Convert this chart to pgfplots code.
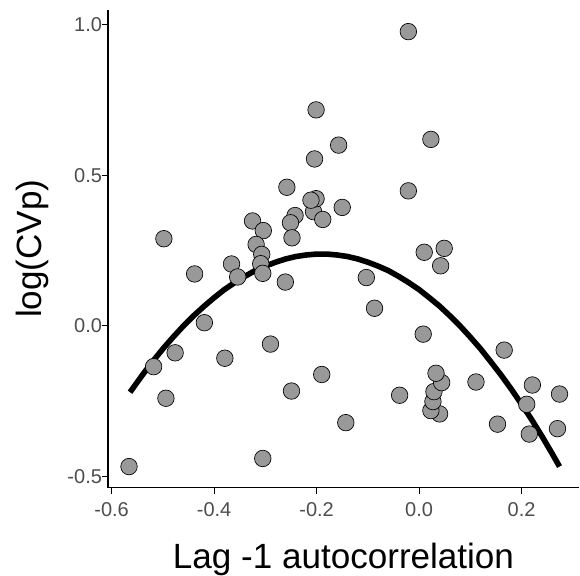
\documentclass[border=0pt]{standalone}
\usepackage{pgfplots}
\pgfplotsset{compat=1.18}
\usepackage{fontspec}
\setmainfont{Liberation Sans}
\definecolor{ptfill}{HTML}{999999}
\definecolor{ticktext}{HTML}{4D4D4D}
\begin{document}
\begin{tikzpicture}
\begin{axis}[
  at={(0,0)}, anchor=south west,
  scale only axis, width=353.25pt, height=358.5pt,
  xmin=-0.607, xmax=0.312, ymin=-0.538, ymax=1.05,
  axis x line*=bottom, axis y line*=left,
  axis line style={line width=1pt, -},
  xtick={-0.6,-0.4,-0.2,0,0.2}, xticklabels={-0.6,-0.4,-0.2,0.0,0.2},
  ytick={-0.5,0,0.5,1}, yticklabels={-0.5,0.0,0.5,1.0},
  tick align=outside, major tick length=4.5pt,
  tick style={line width=0.8pt, black},
  ticklabel style={font=\fontsize{15}{17}\selectfont, text=ticktext},
  xticklabel style={yshift=-3pt},
  yticklabel style={xshift=3.5pt},
  xlabel={Lag -1 autocorrelation}, ylabel={log(CVp)},
  label style={font=\fontsize{26.3}{31}\selectfont},
  xlabel style={at={([yshift=-61pt]axis description cs:0.5,0)}, anchor=base},
  ylabel style={at={([xshift=-49.5pt]axis description cs:0,0.5)}, anchor=base},
  clip=false,
]
\addplot[only marks, mark=*, mark size=6.2pt,
  mark options={fill=ptfill, draw=black, line width=0.5pt}] table {
x y
-0.021 0.977
-0.201 0.717
0.023 0.619
-0.157 0.600
-0.204 0.554
-0.258 0.460
-0.021 0.448
-0.206 0.379
-0.201 0.422
-0.211 0.417
-0.150 0.393
-0.188 0.353
-0.242 0.366
-0.325 0.348
-0.251 0.342
-0.304 0.316
-0.248 0.292
-0.498 0.289
-0.318 0.270
0.049 0.257
0.010 0.244
-0.307 0.237
-0.366 0.205
-0.309 0.206
0.042 0.199
-0.305 0.174
-0.438 0.172
-0.354 0.162
-0.103 0.160
-0.261 0.145
-0.087 0.058
-0.419 0.010
0.008 -0.028
-0.290 -0.061
0.166 -0.081
-0.476 -0.090
-0.379 -0.108
-0.518 -0.136
-0.190 -0.162
0.111 -0.187
0.221 -0.197
-0.249 -0.217
0.274 -0.227
-0.038 -0.231
-0.494 -0.241
0.210 -0.261
0.040 -0.293
0.023 -0.282
0.027 -0.252
0.029 -0.219
0.044 -0.189
0.033 -0.158
-0.143 -0.322
0.153 -0.327
0.270 -0.342
0.215 -0.360
-0.305 -0.441
-0.566 -0.468
};
\addplot[black, line width=4.2pt, line cap=butt, line join=round] coordinates {
(-0.564,-0.221) (-0.54,-0.164) (-0.52,-0.119) (-0.50,-0.077) (-0.48,-0.038)
(-0.46,-0.001) (-0.44,0.033) (-0.42,0.064) (-0.40,0.093) (-0.38,0.120)
(-0.36,0.143) (-0.34,0.164) (-0.32,0.183) (-0.30,0.198) (-0.28,0.211)
(-0.26,0.222) (-0.24,0.230) (-0.22,0.235) (-0.20,0.238) (-0.18,0.238)
(-0.16,0.235) (-0.14,0.230) (-0.12,0.222) (-0.10,0.211) (-0.08,0.198)
(-0.06,0.183) (-0.04,0.164) (-0.02,0.143) (0.00,0.120) (0.02,0.093)
(0.04,0.065) (0.06,0.033) (0.08,-0.001) (0.10,-0.038) (0.12,-0.077)
(0.14,-0.120) (0.16,-0.164) (0.18,-0.211) (0.20,-0.261) (0.22,-0.313)
(0.24,-0.368) (0.26,-0.426) (0.274,-0.468)
};
\end{axis}
\pgfresetboundingbox
\path[use as bounding box] (-81pt,-65.55pt) rectangle (354pt,365.74pt);
\end{tikzpicture}
\end{document}
